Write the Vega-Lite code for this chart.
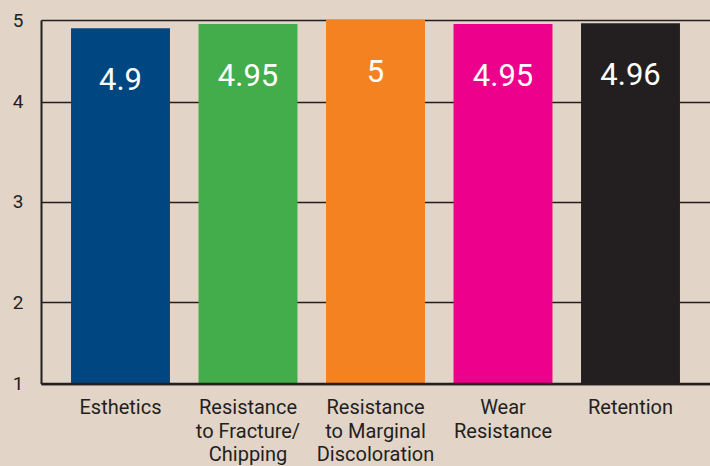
{
  "$schema": "https://vega.github.io/schema/vega-lite/v6.json",
  "autosize": "none",
  "width": 669,
  "height": 363.5,
  "padding": {"left": 41, "top": 20, "right": 0, "bottom": 82.5},
  "background": "#e2d4c7",
  "config": {
    "view": {"stroke": null},
    "font": "Roboto"
  },
  "data": {
    "values": [
      {"category": "Esthetics", "value": 4.9},
      {"category": "Resistance|to  Fracture/|Chipping", "value": 4.95},
      {"category": "Resistance|to  Marginal|Discoloration", "value": 5},
      {"category": "Wear|Resistance", "value": 4.95},
      {"category": "Retention", "value": 4.96}
    ]
  },
  "encoding": {
    "x": {
      "field": "category",
      "type": "nominal",
      "sort": null,
      "scale": {"paddingInner": 0.224, "paddingOuter": 0.2355},
      "axis": {
        "title": null,
        "labelAngle": 0,
        "labelExpr": "split(datum.label, '|')",
        "labelFont": "Roboto",
        "labelFontSize": 20,
        "labelLineHeight": 23.5,
        "labelColor": "#231f20",
        "labelPadding": 14,
        "labelBaseline": "top",
        "ticks": false,
        "domainColor": "#231f20",
        "domainWidth": 2.5,
        "zindex": 1
      }
    },
    "y": {
      "field": "value",
      "type": "quantitative",
      "scale": {"domain": [1, 2, 4, 5], "range": [363.5, 282.3, 81.5, 0], "nice": false, "zero": false},
      "axis": {
        "title": null,
        "values": [1, 2, 3, 4, 5],
        "labelFont": "Roboto",
        "labelFontSize": 19,
        "labelColor": "#231f20",
        "labelPadding": 18,
        "ticks": false,
        "grid": true,
        "gridColor": "#231f20",
        "gridWidth": 1.5,
        "gridOpacity": 1,
        "domainColor": "#231f20",
        "domainWidth": 2,
        "zindex": 0
      }
    }
  },
  "layer": [
    {
      "mark": {"type": "bar"},
      "encoding": {
        "y2": {"datum": 1},
        "color": {
          "field": "category",
          "type": "nominal",
          "sort": null,
          "scale": {"range": ["#004680", "#43ad4b", "#f58220", "#ec008c", "#231f20"]},
          "legend": null
        }
      }
    },
    {
      "mark": {"type": "text", "color": "white", "fontSize": 31, "font": "Roboto", "baseline": "middle", "dy": 53},
      "encoding": {
        "text": {"field": "value", "type": "quantitative"}
      }
    }
  ]
}
